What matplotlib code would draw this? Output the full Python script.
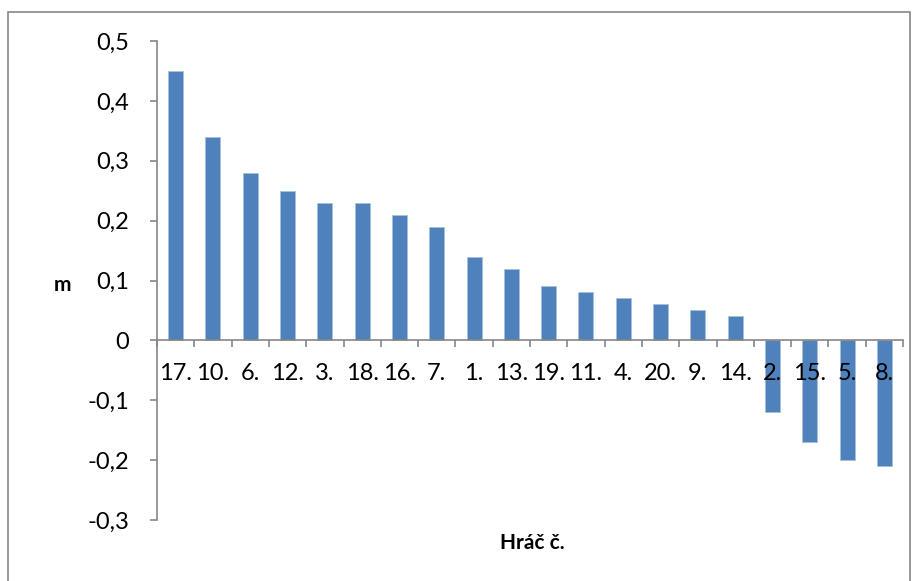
import matplotlib.pyplot as plt
from matplotlib.patches import Rectangle
from matplotlib.ticker import FuncFormatter

# Players sorted by m
players = ["17.", "10.", "6.", "12.", "3.", "18.", "16.", "7.", "1.", "13.",
           "19.", "11.", "4.", "20.", "9.", "14.", "2.", "15.", "5.", "8."]
m_values = [0.45, 0.34, 0.28, 0.25, 0.23, 0.23, 0.21, 0.19, 0.14, 0.12,
            0.09, 0.08, 0.07, 0.06, 0.05, 0.04, -0.12, -0.17, -0.20, -0.21]
y_ticks = [-0.3, -0.2, -0.1, 0, 0.1, 0.2, 0.3, 0.4, 0.5]

plt.rcParams["font.family"] = ["Lato", "DejaVu Sans"]
grey = "#868686"

fig = plt.figure(figsize=(9.18, 5.81), dpi=100)
ax = fig.add_axes([157 / 918, 1 - 520 / 581, 746 / 918, 479 / 581])

x = range(len(players))
ax.bar(x, m_values, width=0.4, color="#4F81BD", edgecolor="#A7BFDE", linewidth=0.6, zorder=2)
ax.set_axisbelow(False)

ax.set_xlim(-0.5, len(players) - 0.5)
ax.set_ylim(-0.3, 0.5)
ax.set_yticks(y_ticks)
ax.yaxis.set_major_formatter(FuncFormatter(lambda v, _: ("%g" % round(v, 1)).replace(".", ",")))
ax.tick_params(axis="y", direction="out", length=5, width=1.2, color=grey,
               labelsize=17, pad=15)

# category axis sits on the zero line
ax.spines["bottom"].set_position(("data", 0))
ax.spines["bottom"].set_color(grey)
ax.spines["bottom"].set_linewidth(1.2)
ax.spines["left"].set_color(grey)
ax.spines["left"].set_linewidth(1.2)
ax.spines["top"].set_visible(False)
ax.spines["right"].set_visible(False)

ax.set_xticks([i - 0.5 for i in range(len(players) + 1)])
ax.set_xticklabels([])
ax.tick_params(axis="x", which="major", direction="out", length=5, width=1.2, color=grey)
ax.set_xticks(list(x), minor=True)
ax.set_xticklabels(players, minor=True)
ax.tick_params(axis="x", which="minor", length=0, labelsize=17, pad=16)

fig.text(62 / 918, 1 - 285 / 581, "m", fontsize=15, fontweight="bold", ha="center", va="center")
fig.text(532 / 918, 1 - 543 / 581, "Hráč č.", fontsize=15, fontweight="bold", ha="center", va="center")

# chart area frame
fig.patches.append(Rectangle((8 / 918, -0.05), 902 / 918, 1.05 - 12 / 581,
                             transform=fig.transFigure, fill=False,
                             edgecolor=grey, linewidth=1.2))

fig.savefig("out.png", dpi=100)
